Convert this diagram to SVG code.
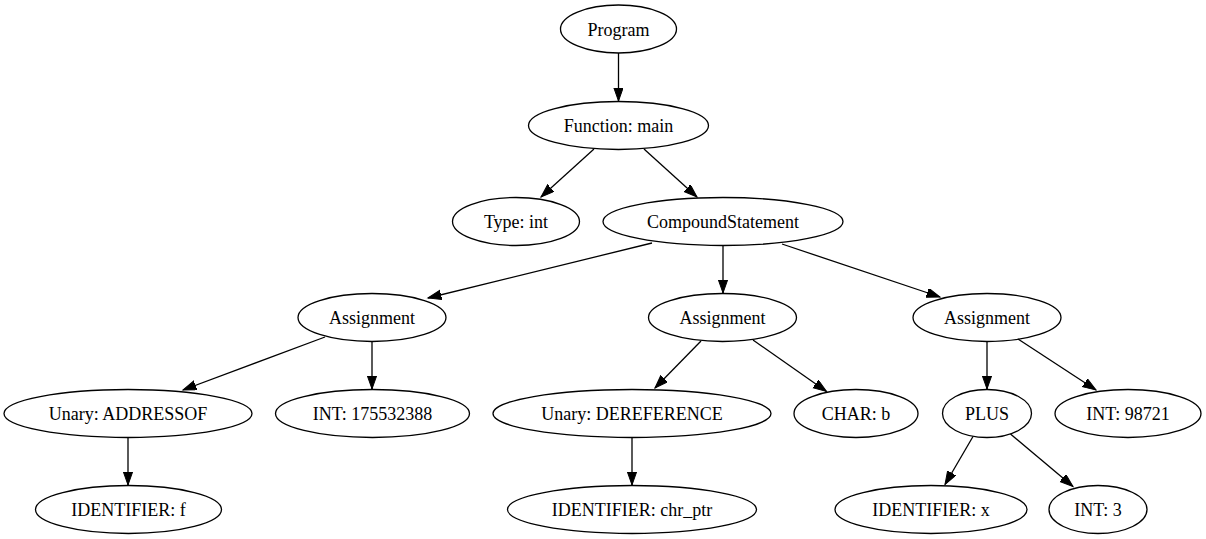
<svg xmlns="http://www.w3.org/2000/svg" width="1206" height="539" viewBox="0 0 1206 539">
<style>
  .node ellipse { fill: none; stroke: #000; stroke-width: 1.3; }
  .node text { font-family: "Liberation Serif", "Times New Roman", serif; font-size: 18px; text-anchor: middle; fill: #000; }
  .edges line { stroke: #000; stroke-width: 1.3; marker-end: url(#arrow); }
</style>
<defs>
  <marker id="arrow" markerUnits="userSpaceOnUse" markerWidth="15" markerHeight="11" refX="13.3" refY="4.7" orient="auto">
    <path d="M0,0 L13.3,4.7 L0,9.4 z" fill="#000" stroke="#000" stroke-width="1"/>
  </marker>
</defs>
<rect width="1206" height="539" fill="#fff"/>
<g id="edges" class="edges">
  <line x1="618.5" y1="53" x2="618.5" y2="101"/>
  <line x1="594" y1="149" x2="541" y2="197"/>
  <line x1="644" y1="149" x2="697" y2="197"/>
  <line x1="652" y1="243" x2="428" y2="298"/>
  <line x1="723" y1="246" x2="723" y2="293"/>
  <line x1="782" y1="244" x2="940" y2="297"/>
  <line x1="325" y1="337" x2="183" y2="390"/>
  <line x1="372" y1="342" x2="372" y2="389"/>
  <line x1="701" y1="341" x2="655" y2="388"/>
  <line x1="753" y1="340" x2="826.5" y2="391.5"/>
  <line x1="987" y1="342" x2="987" y2="389"/>
  <line x1="1018" y1="339" x2="1096" y2="390"/>
  <line x1="128" y1="437.5" x2="128" y2="485"/>
  <line x1="632" y1="437.5" x2="632" y2="485"/>
  <line x1="973" y1="436.5" x2="945" y2="484.5"/>
  <line x1="1010.5" y1="434" x2="1073" y2="486.5"/>
</g>
<g id="n_program" class="node"><ellipse cx="618.5" cy="29" rx="58" ry="24"/><text x="618.5" y="35.5">Program</text></g>
<g id="n_function" class="node"><ellipse cx="618.5" cy="125.5" rx="90" ry="24"/><text x="618.5" y="132">Function: main</text></g>
<g id="n_type" class="node"><ellipse cx="516" cy="221.5" rx="63.5" ry="24"/><text x="516" y="228">Type: int</text></g>
<g id="n_compound" class="node"><ellipse cx="723" cy="221.5" rx="120" ry="24"/><text x="723" y="228">CompoundStatement</text></g>
<g id="n_assign1" class="node"><ellipse cx="372" cy="317.5" rx="74" ry="24"/><text x="372" y="324">Assignment</text></g>
<g id="n_assign2" class="node"><ellipse cx="722.5" cy="317.5" rx="74" ry="24"/><text x="722.5" y="324">Assignment</text></g>
<g id="n_assign3" class="node"><ellipse cx="987" cy="317.5" rx="74" ry="24"/><text x="987" y="324">Assignment</text></g>
<g id="n_addressof" class="node"><ellipse cx="128" cy="413.5" rx="124" ry="24"/><text x="128" y="420">Unary: ADDRESSOF</text></g>
<g id="n_int1" class="node"><ellipse cx="372.5" cy="413.5" rx="97" ry="24"/><text x="372.5" y="420">INT: 175532388</text></g>
<g id="n_deref" class="node"><ellipse cx="632" cy="413.5" rx="139" ry="24"/><text x="632" y="420">Unary: DEREFERENCE</text></g>
<g id="n_char" class="node"><ellipse cx="856" cy="413.5" rx="62" ry="24"/><text x="856" y="420">CHAR: b</text></g>
<g id="n_plus" class="node"><ellipse cx="987" cy="413.5" rx="44.5" ry="24"/><text x="987" y="420">PLUS</text></g>
<g id="n_int2" class="node"><ellipse cx="1128" cy="413.5" rx="73" ry="24"/><text x="1128" y="420">INT: 98721</text></g>
<g id="n_idf" class="node"><ellipse cx="128.5" cy="509.5" rx="93" ry="24"/><text x="128.5" y="516">IDENTIFIER: f</text></g>
<g id="n_idchr" class="node"><ellipse cx="632" cy="509.5" rx="124.5" ry="24"/><text x="632" y="516">IDENTIFIER: chr_ptr</text></g>
<g id="n_idx" class="node"><ellipse cx="931" cy="509.5" rx="96" ry="24"/><text x="931" y="516">IDENTIFIER: x</text></g>
<g id="n_int3" class="node"><ellipse cx="1098" cy="509.5" rx="49" ry="24"/><text x="1098" y="516">INT: 3</text></g>
</svg>
